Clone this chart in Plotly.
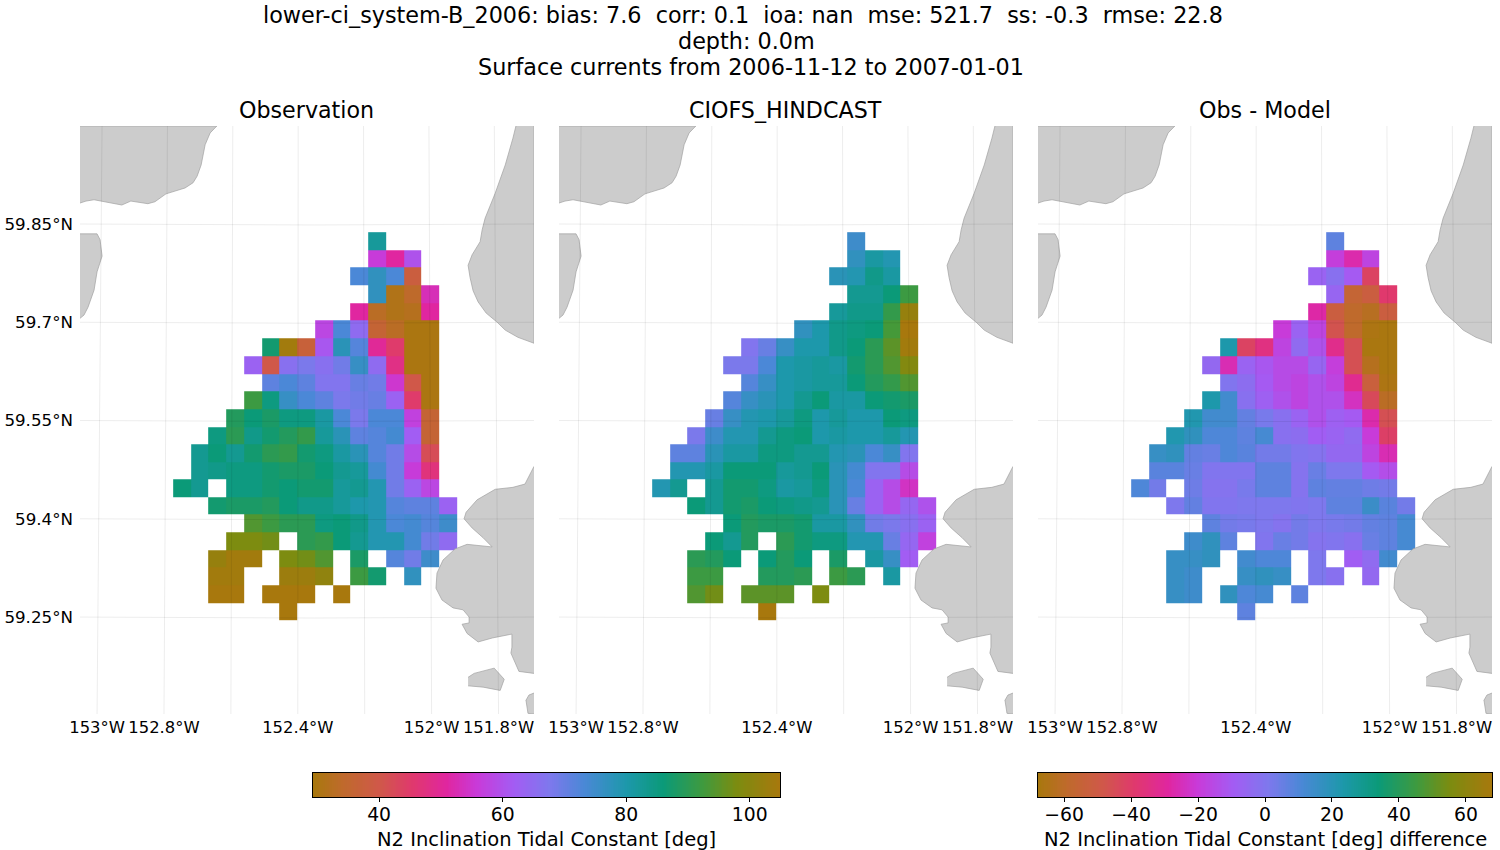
import numpy as np
import plotly.graph_objects as go

FONT = "DejaVu Sans"
WIDTH = 1500
HEIGHT = 850

# cell centres of the regridded tidal constants
lons = [-152.746, -152.693, -152.640, -152.587, -152.534, -152.481, -152.428, -152.375,
        -152.322, -152.269, -152.216, -152.163, -152.110, -152.057, -152.004, -151.951]
lats = [59.824, 59.797, 59.770, 59.743, 59.716, 59.689, 59.662, 59.635, 59.608, 59.581, 59.554,
        59.527, 59.500, 59.474, 59.447, 59.420, 59.393, 59.366, 59.339, 59.312, 59.285, 59.258]

_ = None

obs_values = [
    [_, _, _, _, _, _, _, _, _, _, _, 82, _, _, _, _],
    [_, _, _, _, _, _, _, _, _, _, _, 56, 51, 60, _, _],
    [_, _, _, _, _, _, _, _, _, _, 73, 77, 73, 38, _, _],
    [_, _, _, _, _, _, _, _, _, _, _, 77, 31, 34, 53, _],
    [_, _, _, _, _, _, _, _, _, _, 51, 33, 31, 32, 51, _],
    [_, _, _, _, _, _, _, _, 58, 73, 65, 36, 33, 30, 30, _],
    [_, _, _, _, _, 87, 104, 37, 61, 78, 72, 50, 45, 30, 30, _],
    [_, _, _, _, 63, 40, 66, 68, 66, 69, 76, 65, 48, 30, 30, _],
    [_, _, _, _, _, 71, 73, 71, 67, 67, 70, 69, 55, 40, 30, _],
    [_, _, _, _, 92, 85, 76, 73, 71, 68, 69, 70, 63, 45, 30, _],
    [_, _, _, 89, 86, 88, 85, 85, 81, 73, 68, 73, 73, 57, 36, _],
    [_, _, 85, 90, 84, 87, 89, 91, 82, 78, 71, 72, 74, 62, 36, _],
    [_, 83, 86, 83, 87, 90, 91, 87, 85, 81, 78, 72, 69, 59, 42, _],
    [_, 83, 84, 85, 85, 87, 88, 88, 86, 83, 82, 74, 69, 56, 47, _],
    [86, 83, _, 85, 85, 87, 86, 87, 87, 82, 83, 79, 69, 63, 58, _],
    [_, _, 87, 88, 88, 89, 86, 84, 84, 82, 80, 79, 72, 71, 71, 63],
    [_, _, _, _, 94, 92, 90, 90, 85, 86, 84, 79, 73, 74, 72, 75],
    [_, _, _, 98, 98, 97, _, 90, 91, 86, 83, 79, 79, 74, 69, 65],
    [_, _, 102, 104, 104, _, 98, 97, 94, _, 88, _, 72, 69, 75, _],
    [_, _, 104, 104, _, _, 103, 103, 101, _, 92, 87, _, 77, _, _],
    [_, _, 105, 105, _, 105, 105, 105, _, 105, _, _, _, _, _, _],
    [_, _, _, _, _, _, 105, _, _, _, _, _, _, _, _, _],
]

model_values = [
    [_, _, _, _, _, _, _, _, _, _, _, 75, _, _, _, _],
    [_, _, _, _, _, _, _, _, _, _, _, 77, 81, 79, _, _],
    [_, _, _, _, _, _, _, _, _, _, 78, 79, 84, 81, _, _],
    [_, _, _, _, _, _, _, _, _, _, _, 83, 83, 86, 92, _],
    [_, _, _, _, _, _, _, _, _, _, 82, 84, 84, 91, 102, _],
    [_, _, _, _, _, _, _, _, 77, 80, 84, 85, 86, 93, 105, _],
    [_, _, _, _, _, 67, 70, 76, 80, 80, 84, 86, 90, 95, 104, _],
    [_, _, _, _, 68, 68, 73, 80, 81, 82, 81, 87, 90, 94, 99, _],
    [_, _, _, _, _, 72, 76, 80, 81, 82, 82, 86, 89, 91, 94, _],
    [_, _, _, _, 72, 76, 78, 80, 83, 86, 81, 81, 86, 87, 88, _],
    [_, _, _, 70, 76, 79, 80, 82, 85, 80, 82, 80, 80, 86, 85, _],
    [_, _, 68, 75, 79, 79, 83, 85, 86, 80, 81, 80, 80, 82, 79, _],
    [_, 71, 71, 78, 81, 81, 85, 85, 83, 83, 79, 78, 73, 76, 67, _],
    [_, 79, 79, 81, 86, 86, 86, 82, 83, 86, 78, 74, 67, 67, 59, _],
    [79, 83, _, 83, 87, 87, 85, 81, 82, 85, 78, 73, 63, 59, 54, _],
    [_, _, 86, 83, 87, 88, 86, 85, 84, 83, 78, 70, 63, 59, 64, 60],
    [_, _, _, _, 86, 89, 88, 88, 87, 81, 81, 77, 69, 68, 66, 63],
    [_, _, _, 86, 83, 89, _, 90, 87, 85, 85, 79, 79, 70, 64, 57],
    [_, _, 90, 89, 86, _, 86, 89, 86, _, 88, _, 81, 76, 62, _],
    [_, _, 92, 92, _, _, 89, 89, 90, _, 92, 90, _, 81, _, _],
    [_, _, 94, 97, _, 95, 95, 95, _, 98, _, _, _, _, _, _],
    [_, _, _, _, _, _, 105, _, _, _, _, _, _, _, _, _],
]

diff_values = [
    [_, _, _, _, _, _, _, _, _, _, _, 7, _, _, _, _],
    [_, _, _, _, _, _, _, _, _, _, _, -19, -27, -17, _, _],
    [_, _, _, _, _, _, _, _, _, _, -7, -2, -10, -42, _, _],
    [_, _, _, _, _, _, _, _, _, _, _, -6, -56, -52, -39, _],
    [_, _, _, _, _, _, _, _, _, _, -28, -52, -59, -62, -52, _],
    [_, _, _, _, _, _, _, _, -20, -7, -17, -47, -59, -66, -67, _],
    [_, _, _, _, _, 23, -42, -35, -17, -4, -13, -33, -46, -67, -67, _],
    [_, _, _, _, -5, -26, -7, -11, -15, -15, -6, -19, -46, -63, -67, _],
    [_, _, _, _, _, 0, -3, -10, -15, -17, -13, -17, -32, -53, -66, _],
    [_, _, _, _, 23, 13, -2, -8, -13, -17, -13, -13, -24, -44, -61, _],
    [_, _, _, 22, 13, 13, 6, 2, -2, -7, -13, -8, -10, -27, -46, _],
    [_, _, 22, 18, 10, 10, 7, 12, -2, -3, -9, -7, -4, -20, -41, _],
    [_, 16, 18, 6, 5, 10, 8, 3, 3, 0, -1, -5, -5, -17, -26, _],
    [_, 8, 8, 5, 0, 0, 0, 7, 7, -1, 5, 1, 1, -10, -14, _],
    [10, 3, _, 4, -1, -1, 2, 7, 7, -1, 7, 6, 6, 4, 3, _],
    [_, _, 1, 6, 0, 0, 1, 1, 1, 0, 1, 7, 7, 15, 8, 3],
    [_, _, _, _, 7, 3, 2, 1, -1, 3, 1, 2, 3, 6, 7, 12],
    [_, _, _, 14, 18, 7, _, 0, 5, 3, -1, 0, -2, 5, 7, 12],
    [_, _, 16, 16, 18, _, 13, 10, 10, _, 1, _, -9, -4, 13, _],
    [_, _, 16, 14, _, _, 16, 18, 16, _, 1, -2, _, -5, _, _],
    [_, _, 16, 14, _, 18, 10, 12, _, 7, _, _, _, _, _, _],
    [_, _, _, _, _, _, 7, _, _, _, _, _, _, _, _, _],
]

lon_ticks = [-153.0, -152.8, -152.4, -152.0, -151.8]
lon_labels = ["153°W", "152.8°W", "152.4°W", "152°W", "151.8°W"]
lat_ticks = [59.85, 59.7, 59.55, 59.4, 59.25]
lat_labels = ["59.85°N", "59.7°N", "59.55°N", "59.4°N", "59.25°N"]

value_ticks = [40, 60, 80, 100]
diff_ticks = [-60, -40, -20, 0, 20, 40, 60]

land_outlines = [
    ([-153.051, -152.642, -152.662, -152.677, -152.689, -152.701, -152.713, -152.737, -152.794,
      -152.827, -152.848, -152.899, -152.926, -153.009, -153.033, -153.051],
     [59.9996, 59.9996, 59.989, 59.971, 59.940, 59.923, 59.913, 59.905, 59.896,
      59.884, 59.881, 59.885, 59.879, 59.887, 59.885, 59.882]),
    ([-153.051, -153.000, -152.991, -152.985, -153.000, -153.009, -153.027, -153.039, -153.051],
     [59.835, 59.835, 59.826, 59.801, 59.777, 59.749, 59.723, 59.711, 59.706]),
    ([-151.748, -151.757, -151.780, -151.810, -151.840, -151.849, -151.855, -151.879, -151.891,
      -151.885, -151.876, -151.861, -151.837, -151.804, -151.780, -151.742, -151.694, -151.694],
     [59.9996, 59.981, 59.940, 59.897, 59.859, 59.841, 59.823, 59.803, 59.787,
      59.768, 59.748, 59.731, 59.714, 59.700, 59.688, 59.677, 59.668, 59.9996]),
    ([-151.694, -151.721, -151.757, -151.810, -151.864, -151.897, -151.903, -151.879, -151.846,
      -151.819, -151.894, -151.930, -151.966, -151.984, -151.987, -151.969, -151.936, -151.906,
      -151.888, -151.888, -151.909, -151.894, -151.861, -151.819, -151.760, -151.760, -151.763,
      -151.739, -151.694],
     [59.480, 59.453, 59.448, 59.445, 59.429, 59.410, 59.400, 59.386, 59.371,
      59.357, 59.361, 59.354, 59.337, 59.317, 59.294, 59.276, 59.264, 59.261,
      59.250, 59.241, 59.239, 59.225, 59.212, 59.218, 59.224, 59.204, 59.195,
      59.167, 59.164]),
    ([-151.891, -151.873, -151.813, -151.783, -151.795, -151.846, -151.891],
     [59.158, 59.164, 59.172, 59.155, 59.138, 59.143, 59.145]),
    ([-151.694, -151.709, -151.718, -151.712, -151.694],
     [59.134, 59.131, 59.123, 59.103, 59.102]),
]

# cmocean "phase"
phase = [
    [0.00, "#a8780d"], [0.064, "#bf6a2c"], [0.143, "#d0584a"], [0.214, "#e0386e"],
    [0.286, "#e0269f"], [0.35, "#c93ad8"], [0.43, "#a35cf3"], [0.507, "#7e78ed"],
    [0.58, "#4a88d6"], [0.67, "#1d98ab"], [0.75, "#0b9a78"], [0.835, "#3f9a3e"],
    [0.907, "#7c8c10"], [1.00, "#a8780d"],
]

LON_RANGE = [-153.051, -151.694]
LAT_RANGE = [59.102, 59.9996]
GRID_COLOR = "rgba(0,0,0,0.075)"


def add_panel(fig, n, title, values, coloraxis, left):
    """Draw one map panel: the gridded field, the coast and the graticule."""
    suffix = "" if n == 1 else str(n)
    xref = "x" + suffix
    yref = "y" + suffix

    fig.add_trace(go.Heatmap(x=lons, y=lats, z=values, coloraxis=coloraxis, xaxis=xref, yaxis=yref,
                             hoverongaps=False))

    for land_lon, land_lat in land_outlines:
        fig.add_trace(go.Scatter(x=land_lon, y=land_lat, mode="lines", fill="toself",
                                 fillcolor="#cccccc", line=dict(color="#a0a0a0", width=0.7),
                                 xaxis=xref, yaxis=yref, showlegend=False, hoverinfo="skip"))

    # meridians lean in towards the top of the conic map, parallels bow a little
    for lon in lon_ticks + [-152.6, -152.2]:
        fig.add_trace(go.Scatter(x=[lon, lon - 0.023 * (lon + 152.35)], y=LAT_RANGE, mode="lines",
                                 line=dict(color=GRID_COLOR, width=1),
                                 xaxis=xref, yaxis=yref, showlegend=False, hoverinfo="skip"))
    for lat in lat_ticks:
        fig.add_trace(go.Scatter(x=[LON_RANGE[0], -152.35, LON_RANGE[1]], y=[lat, lat - 0.0015, lat],
                                 mode="lines", line=dict(color=GRID_COLOR, width=1),
                                 xaxis=xref, yaxis=yref, showlegend=False, hoverinfo="skip"))

    fig.update_layout({
        "xaxis" + suffix: dict(domain=[left / WIDTH, (left + 454) / WIDTH], range=LON_RANGE,
                               tickmode="array", tickvals=lon_ticks, ticktext=lon_labels,
                               showgrid=False, zeroline=False, showline=False,
                               ticks="", ticklabelstandoff=2,
                               automargin=False, anchor=yref,
                               tickfont=dict(family=FONT, size=16.4, color="black")),
        "yaxis" + suffix: dict(domain=[1 - 714 / HEIGHT, 1 - 126 / HEIGHT], range=LAT_RANGE,
                               tickmode="array", tickvals=lat_ticks, ticktext=lat_labels,
                               showticklabels=(n == 1), anchor=xref, automargin=False,
                               showgrid=False, zeroline=False, showline=False,
                               ticks="", ticklabelstandoff=6,
                               tickfont=dict(family=FONT, size=16.7, color="black")),
    })

    fig.add_annotation(text=title, x=(left + 226.5) / WIDTH, y=1 - 110 / HEIGHT, xref="paper", yref="paper",
                       showarrow=False, xanchor="center", yanchor="middle",
                       font=dict(family=FONT, size=22.2, color="black"))


def add_colorbar(fig, n, title, coloraxis, vmin, vmax, ticks, left, right):
    """Colour bar on its own axes so that tick labels and title sit where the reference has them."""
    ramp = np.linspace(vmin, vmax, 256)
    fig.add_trace(go.Heatmap(x=ramp, y=[0, 1], z=[ramp, ramp], coloraxis=coloraxis,
                             xaxis="x" + str(n), yaxis="y" + str(n), hoverinfo="skip"))
    fig.update_layout({
        "xaxis" + str(n): dict(domain=[left / WIDTH, right / WIDTH], range=[vmin, vmax], anchor="y" + str(n),
                               tickmode="array", tickvals=ticks, ticks="outside", ticklen=4,
                               tickcolor="black", tickwidth=1, showgrid=False, zeroline=False,
                               showline=True, mirror=True, linecolor="black", linewidth=1.3,
                               ticklabelstandoff=-4, automargin=False,
                               tickfont=dict(family=FONT, size=18.8, color="black")),
        "yaxis" + str(n): dict(domain=[1 - 797 / HEIGHT, 1 - 773 / HEIGHT], range=[0, 1], anchor="x" + str(n),
                               showticklabels=False, ticks="", showgrid=False, zeroline=False,
                               showline=True, mirror=True, linecolor="black", linewidth=1.3,
                               automargin=False),
    })
    fig.add_annotation(text=title, x=(left + right) / 2 / WIDTH, y=1 - 839 / HEIGHT, xref="paper", yref="paper",
                       showarrow=False, xanchor="center", yanchor="middle",
                       font=dict(family=FONT, size=19.5, color="black"))


fig = go.Figure()
add_panel(fig, 1, "Observation", obs_values, "coloraxis", 80)
add_panel(fig, 2, "CIOFS_HINDCAST", model_values, "coloraxis", 559)
add_panel(fig, 3, "Obs - Model", diff_values, "coloraxis2", 1038)
add_colorbar(fig, 4, "N2 Inclination Tidal Constant [deg]", "coloraxis", 29.3, 104.9, value_ticks, 313, 780)
add_colorbar(fig, 5, "N2 Inclination Tidal Constant [deg] difference", "coloraxis2", -67.8, 67.8, diff_ticks, 1038, 1492)

suptitle = [
    "lower-ci_system-B_2006: bias: 7.6\u00a0 corr: 0.1\u00a0 ioa: nan\u00a0 mse: 521.7\u00a0 ss: -0.3\u00a0 rmse: 22.8",
    "depth: 0.0m",
    "Surface currents from 2006-11-12 to 2007-01-01",
]
for line, xpix, ypix in zip(suptitle, [743, 746, 750.5], [15, 41, 67]):
    fig.add_annotation(text=line, x=xpix / WIDTH, y=1 - ypix / HEIGHT, xref="paper", yref="paper",
                       showarrow=False, xanchor="center", yanchor="middle",
                       font=dict(family=FONT, size=22.3, color="black"))

fig.update_layout(
    width=WIDTH,
    height=HEIGHT,
    margin=dict(l=0, r=0, t=0, b=0, autoexpand=False),
    paper_bgcolor="white",
    plot_bgcolor="white",
    showlegend=False,
    coloraxis=dict(colorscale=phase, cmin=29.3, cmax=104.9, showscale=False),
    coloraxis2=dict(colorscale=phase, cmin=-67.8, cmax=67.8, showscale=False),
)

fig.write_html("out.html", config={"displayModeBar": False}, post_script="document.body.style.margin='0';")
